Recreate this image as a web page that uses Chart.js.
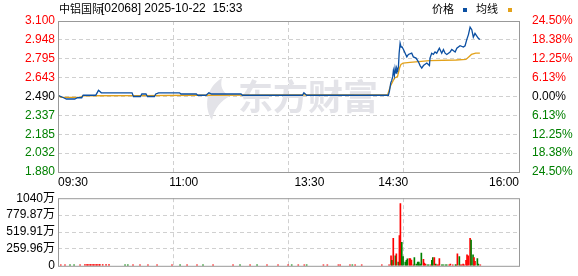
<!DOCTYPE html>
<html>
<head>
<meta charset="utf-8">
<script src="https://cdn.jsdelivr.net/npm/chart.js@4.4.1/dist/chart.umd.min.js"></script>
<style>
  html, body { margin: 0; padding: 0; background: #fff; }
  #wrap { position: relative; width: 578px; height: 276px; overflow: hidden; }
  canvas { position: absolute; left: 0; }
  #priceChart { top: 0; }
  #volChart { top: 188px; }
</style>
</head>
<body>
<div id="wrap">
  <canvas id="priceChart" width="578" height="188"></canvas>
  <canvas id="volChart" width="578" height="88"></canvas>
</div>
<script>
// minutes since 09:30, lunch break removed (09:30-12:00, 13:00-16:00 => 0..330)
const prevClose = 2.49;
const priceMin = 1.88;
const priceMax = 3.10;

const priceTimes = [0, 2, 4, 6, 12, 14, 17, 18, 27, 29, 31, 53, 54, 59, 60, 63, 64, 69, 70, 72, 87, 88,
  99, 100, 106, 107, 108, 110, 131, 132, 150, 175, 176, 178, 236.5,
  237.2, 238.2, 238.9, 239.6, 240.1, 240.8, 241.3, 242, 242.5, 243.2, 243.7, 244.2, 244.9, 245.6, 246.3,
  247.3, 248.5, 249.7, 250.8, 253.2, 254.4, 256.3, 258, 259.2, 260.4, 261.6, 264, 265.9, 266.3, 267.5,
  268.7, 269.9, 271.1, 273, 274.7, 275.9, 277.1, 278.3, 280.7, 281.9, 284.3, 285.5, 287.8, 290.2, 291.4,
  292.6, 293.8, 295, 296.2, 297.3, 298.5, 299.7, 300.9, 302];
const prices = [2.50, 2.49, 2.48, 2.47, 2.47, 2.48, 2.48, 2.50, 2.50, 2.54, 2.52, 2.52, 2.49, 2.49, 2.51, 2.51, 2.49, 2.49, 2.51, 2.52, 2.52, 2.51,
  2.51, 2.50, 2.50, 2.51, 2.52, 2.51, 2.51, 2.50, 2.50, 2.50, 2.52, 2.50, 2.50,
  2.53, 2.60, 2.62, 2.65, 2.70, 2.66, 2.72, 2.68, 2.72, 2.70, 2.73, 2.84, 2.92, 2.89, 2.89,
  2.87, 2.84, 2.81, 2.83, 2.84, 2.81, 2.80, 2.77, 2.74, 2.72, 2.74, 2.76, 2.74, 2.80, 2.84,
  2.83, 2.85, 2.84, 2.88, 2.84, 2.87, 2.84, 2.83, 2.85, 2.87, 2.85, 2.88, 2.90, 2.89, 2.90,
  2.95, 2.99, 3.05, 3.03, 2.97, 3.00, 2.98, 2.96, 2.95];

const avgTimes = [0, 2, 16, 18, 60, 100, 236, 237, 238.2, 240, 241, 243, 244.5, 245.5, 247, 252, 256, 266, 285, 292, 294, 296, 299, 302];
const avgPrices = [2.500, 2.483, 2.483, 2.496, 2.497, 2.500, 2.505, 2.54, 2.58, 2.62, 2.64, 2.65, 2.72, 2.75, 2.76, 2.765, 2.77, 2.78, 2.785, 2.79, 2.81, 2.83, 2.84, 2.84];

// volume in 万, direction 1 = up (red), -1 = down (green)
const volTimes = [2, 5, 8.6, 11.5, 15.8, 19.3, 20.7, 21.5, 22.9, 23.6, 25, 25.8, 27.2, 28, 29.4, 30, 32, 34.4, 36.5,
  48, 50, 53.7, 58.7, 64.4, 70.9, 81.6, 87.4, 92.4, 99.5, 103.8, 111, 125.3, 130.3, 137.5, 142.5, 149.6,
  157.5, 164.7, 167.3, 172, 176.3, 178, 190, 192.8, 200.7, 202, 209, 210.7, 212.7, 217.4, 231.8, 237,
  238.4, 239.1, 240, 241.5, 242.2, 243.6, 244.4, 245.1, 246.1, 247, 248.6, 249.4, 250.1, 251.5, 252.2, 253,
  254.4, 255.1, 256.5, 257.5, 258.3, 259.2, 260.1, 261.6, 262.2, 263, 264.4, 265.4, 266.9, 267.6, 268.3,
  269.4, 270.4, 271.4, 272.3, 273, 274.7, 275.7, 277.3, 278.3, 280, 280.9, 282.6, 284.5, 284.9, 285.9,
  287.3, 288.1, 289, 290, 290.7, 292.1, 292.8, 293.6, 295, 295.7, 297.1, 297.8, 298.5, 300.2, 300.9, 302.3];
const volumes = [15, 15, 15, 15, 15, 20, 20, 20, 20, 20, 20, 20, 20, 20, 20, 20, 20, 20, 20,
  15, 15, 15, 15, 15, 15, 15, 15, 15, 15, 15, 15, 15, 15, 15, 15, 15,
  15, 15, 15, 15, 15, 15, 15, 15, 15, 15, 15, 15, 15, 15, 15, 15,
  155, 85, 423, 155, 183, 56, 465, 959, 362, 141, 56, 85, 108, 113, 113, 89,
  14, 127, 28, 56, 56, 28, 197, 99, 42, 28, 14, 14, 14, 85, 127,
  127, 28, 14, 14, 113, 14, 14, 14, 14, 14, 28, 14, 14, 14, 183,
  141, 14, 14, 28, 14, 85, 169, 155, 423, 395, 169, 127, 70, 113, 28, 14];
const volDirs = [1, 1, -1, -1, 1, 1, 1, 1, 1, 1, 1, 1, 1, 1, 1, 1, 1, 1, 1,
  -1, -1, 1, 1, 1, 1, 1, -1, 1, 1, -1, 1, 1, -1, 1, -1, 1,
  1, 1, -1, 1, 1, -1, 1, 1, 1, 1, 1, -1, 1, 1, 1, 1,
  1, -1, 1, -1, 1, -1, 1, 1, -1, -1, -1, -1, -1, 1, 1, 1,
  1, -1, -1, -1, -1, -1, -1, 1, 1, 1, -1, -1, 1, -1, -1,
  1, -1, 1, 1, 1, -1, -1, -1, -1, 1, 1, 1, -1, -1, 1,
  -1, 1, 1, 1, 1, 1, 1, 1, 1, -1, -1, 1, 1, -1, -1, 1];

const timeTicks = [0, 90, 180, 240, 330];
const timeLabels = ['09:30', '11:00', '13:30', '14:30', '16:00'];
const gridTimes = [82.5, 165, 247.5];
const priceLabels = ['1.880', '2.032', '2.185', '2.337', '2.490', '2.643', '2.795', '2.948', '3.100'];
const pctLabels = ['24.50%', '18.38%', '12.25%', '6.13%', '0.00%', '6.13%', '12.25%', '18.38%', '24.50%'];
const volMax = 1040;
const volLabels = ['0', '259.96万', '519.91万', '779.87万', '1040万'];

const RED = '#ff0000', GREEN = '#008000', BLUE = '#0b4fa2', ORANGE = '#e3a21a';
const GRID = '#d0d0d0', BORDER = '#999999';

Chart.defaults.font.family = '"Liberation Sans", Arial, "Noto Sans CJK SC", sans-serif';
Chart.defaults.font.size = 12;
Chart.defaults.color = '#000';

const priceStep = (priceMax - priceMin) / 8;
const priceTickVals = priceLabels.map((_, i) => priceMin + i * priceStep);
const allTimeTicks = [...timeTicks, ...gridTimes].sort((a, b) => a - b);

function colorFor(i) {
  if (i > 4) return RED;
  if (i < 4) return GREEN;
  return '#000';
}

const boxPlugin = {
  id: 'box',
  afterDraw(chart) {
    const { ctx, chartArea: a } = chart;
    ctx.save();
    ctx.strokeStyle = BORDER;
    ctx.lineWidth = 1;
    ctx.strokeRect(a.left + 0.5, a.top + 0.5, a.right - a.left, a.bottom - a.top);
    ctx.restore();
  }
};

const watermarkPlugin = {
  id: 'watermark',
  beforeDatasetsDraw(chart) {
    const { ctx } = chart;
    ctx.save();
    ctx.fillStyle = '#e3e3e8';
    ctx.font = 'bold 35px "Noto Sans CJK SC", sans-serif';
    ctx.textBaseline = 'middle';
    ctx.fillText('东方财富', 238, 97);
    // flame logo
    ctx.beginPath();
    ctx.moveTo(222, 78);
    ctx.bezierCurveTo(205, 88, 204, 108, 212, 120);
    ctx.bezierCurveTo(214, 108, 222, 100, 230, 96);
    ctx.bezierCurveTo(222, 92, 220, 86, 222, 78);
    ctx.fill();
    ctx.restore();
  }
};

const headerPlugin = {
  id: 'header',
  afterDraw(chart) {
    const { ctx } = chart;
    ctx.save();
    ctx.textBaseline = 'middle';
    ctx.fillStyle = '#000';
    ctx.font = '11px "Noto Sans CJK SC", sans-serif';
    ctx.fillText('中铝国际', 59, 9);
    ctx.font = '12px "Liberation Sans", Arial, sans-serif';
    ctx.fillText('[02068] 2025-10-22  15:33', 101, 9);
    ctx.font = '11px "Noto Sans CJK SC", sans-serif';
    ctx.fillText('价格', 432, 9);
    ctx.fillText('均线', 476, 9);
    ctx.fillStyle = BLUE;
    ctx.fillRect(463, 8, 4, 4);
    ctx.fillStyle = ORANGE;
    ctx.fillRect(508, 8, 4, 4);
    ctx.restore();
  }
};

const xGridColor = (c) => gridTimes.includes(c.tick.value) ? GRID : 'rgba(0,0,0,0)';

new Chart(document.getElementById('priceChart'), {
  type: 'line',
  data: {
    datasets: [
      {
        label: '价格',
        data: priceTimes.map((t, i) => ({ x: t, y: prices[i] })),
        borderColor: BLUE,
        borderWidth: 1.3,
        pointRadius: 0,
        tension: 0
      },
      {
        label: '均线',
        data: avgTimes.map((t, i) => ({ x: t, y: avgPrices[i] })),
        borderColor: ORANGE,
        borderWidth: 1.3,
        pointRadius: 0,
        tension: 0
      }
    ]
  },
  options: {
    responsive: false,
    animation: false,
    events: [],
    layout: { padding: { top: 21, left: 0, right: 0, bottom: 0 } },
    plugins: { legend: { display: false }, tooltip: { enabled: false } },
    scales: {
      x: {
        type: 'linear',
        min: 0,
        max: 330,
        afterBuildTicks: (s) => { s.ticks = allTimeTicks.map(v => ({ value: v })); },
        afterFit: (s) => { s.height = 16; },
        ticks: {
          autoSkip: false,
          maxRotation: 0,
          align: 'inner',
          padding: 3,
          color: '#000',
          callback: (v) => { const i = timeTicks.indexOf(v); return i >= 0 ? timeLabels[i] : ''; }
        },
        grid: { color: xGridColor, drawTicks: false, lineWidth: 1 },
        border: { display: false, dash: [4, 3] }
      },
      y: {
        position: 'left',
        min: priceMin,
        max: priceMax,
        afterBuildTicks: (s) => { s.ticks = priceTickVals.map(v => ({ value: v })); },
        afterFit: (s) => { s.width = 58; },
        ticks: {
          padding: 3,
          color: (c) => colorFor(c.index),
          callback: (v, i) => priceLabels[i]
        },
        grid: {
          color: (c) => (c.index === 0 || c.index === 8) ? 'rgba(0,0,0,0)' : GRID,
          drawTicks: false
        },
        border: { display: false, dash: [4, 3] }
      },
      yr: {
        position: 'right',
        min: priceMin,
        max: priceMax,
        afterBuildTicks: (s) => { s.ticks = priceTickVals.map(v => ({ value: v })); },
        afterFit: (s) => { s.width = 59; },
        ticks: {
          padding: 5,
          color: (c) => colorFor(c.index),
          callback: (v, i) => pctLabels[i]
        },
        grid: { display: false },
        border: { display: false }
      }
    }
  },
  plugins: [watermarkPlugin, boxPlugin, headerPlugin]
});

new Chart(document.getElementById('volChart'), {
  type: 'bar',
  data: {
    datasets: [{
      label: '成交量',
      data: volTimes.map((t, i) => ({ x: t, y: volumes[i] })),
      backgroundColor: volDirs.map(d => d > 0 ? RED : GREEN),
      barThickness: 1,
      borderWidth: 0
    }]
  },
  options: {
    responsive: false,
    animation: false,
    events: [],
    layout: { padding: { top: 9, left: 0, right: 59, bottom: 5 } },
    plugins: { legend: { display: false }, tooltip: { enabled: false } },
    scales: {
      x: {
        type: 'linear',
        min: 0,
        max: 330,
        offset: false,
        afterBuildTicks: (s) => { s.ticks = gridTimes.map(v => ({ value: v })); },
        afterFit: (s) => { s.height = 0; },
        ticks: { display: false },
        grid: { color: GRID, drawTicks: false, offset: false },
        border: { display: false, dash: [4, 3] }
      },
      y: {
        position: 'left',
        min: 0,
        max: volMax,
        afterBuildTicks: (s) => { s.ticks = volLabels.map((_, i) => ({ value: i * volMax / 4 })); },
        afterFit: (s) => { s.width = 58; },
        ticks: {
          padding: 3,
          color: '#000',
          callback: (v, i) => volLabels[i]
        },
        grid: {
          color: (c) => (c.index === 0 || c.index === 4) ? 'rgba(0,0,0,0)' : GRID,
          drawTicks: false
        },
        border: { display: false, dash: [4, 3] }
      }
    }
  },
  plugins: [boxPlugin]
});
</script>
</body>
</html>
